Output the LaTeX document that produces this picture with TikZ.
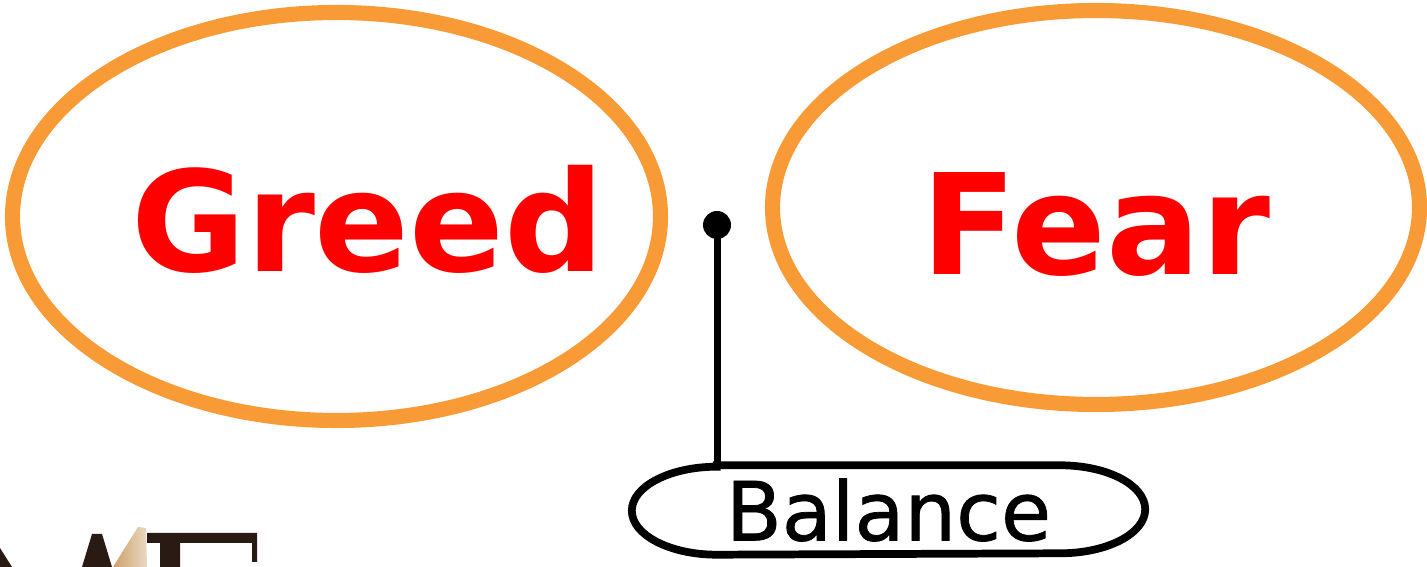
\documentclass[tikz,border=0pt]{standalone}
\usepackage{fontspec}
\setmainfont{DejaVu Sans}
\newfontfamily\pillfont[FakeBold=0.9]{DejaVu Sans}
\usetikzlibrary{calc}
\definecolor{ringorange}{RGB}{248,155,55}
\definecolor{photodark}{RGB}{42,26,20}
\definecolor{phototan}{RGB}{205,160,105}
\tikzset{
  ring/.style={draw=ringorange, line width=4.3pt},
  bigword/.style={text=red, font=\fontsize{39.8pt}{40pt}\selectfont\bfseries, inner sep=0, anchor=base},
  pill/.style={draw=black, line width=2.2pt},
}
\begin{document}
\begin{tikzpicture}
    \useasboundingbox (0,0) rectangle (14.27,-5.67);
    % photo scrap, bottom left
    \fill[photodark] (0,-5.48) -- (0.12,-5.67) -- (0,-5.67) -- cycle;
    \fill[photodark] (0.92,-5.34) -- (1.02,-5.34) -- (1.12,-5.67) -- (0.82,-5.67) -- cycle;
    \shade[left color=phototan, right color=phototan!40] (1.13,-5.67) -- (1.38,-5.27) -- (1.46,-5.28) -- (1.47,-5.67) -- cycle;
    \fill[photodark] (1.47,-5.33) -- (2.57,-5.33) -- (2.57,-5.62) -- (2.52,-5.62) -- (2.52,-5.43) -- (1.80,-5.43) -- (1.80,-5.67) -- (1.60,-5.67) -- (1.60,-5.43) -- (1.47,-5.43) -- cycle;
    % the two rings
    \draw[ring] (3.365,-2.165) ellipse [x radius=3.24, y radius=2.04];
    \draw[ring] (10.96,-2.075) ellipse [x radius=3.235, y radius=1.97];
    \node[bigword] (greed) at (3.68,-2.72) {Greed};
    \node[bigword] (fear) at (10.96,-2.75) {Fear};
    % balance point and label
    \node[circle, fill=black, inner sep=0, minimum size=0.28cm] (pivot) at (7.17,-2.25) {};
    \node[font=\fontsize{23.2pt}{24pt}\pillfont, minimum width=5.12cm, minimum height=0.88cm, inner sep=0] (balance) at (8.885,-5.10) {Balance};
    \draw[pill] ($(balance.north west)+(0.85,0)$) -- ($(balance.north east)+(-0.85,0)$)
        arc[start angle=90, end angle=-90, x radius=0.85, y radius=0.44]
        -- ($(balance.south west)+(0.85,0)$)
        arc[start angle=270, end angle=90, x radius=0.85, y radius=0.44] -- cycle;
    \draw[line width=2pt] (pivot.center) -- (pivot |- balance.north);
\end{tikzpicture}
\end{document}
